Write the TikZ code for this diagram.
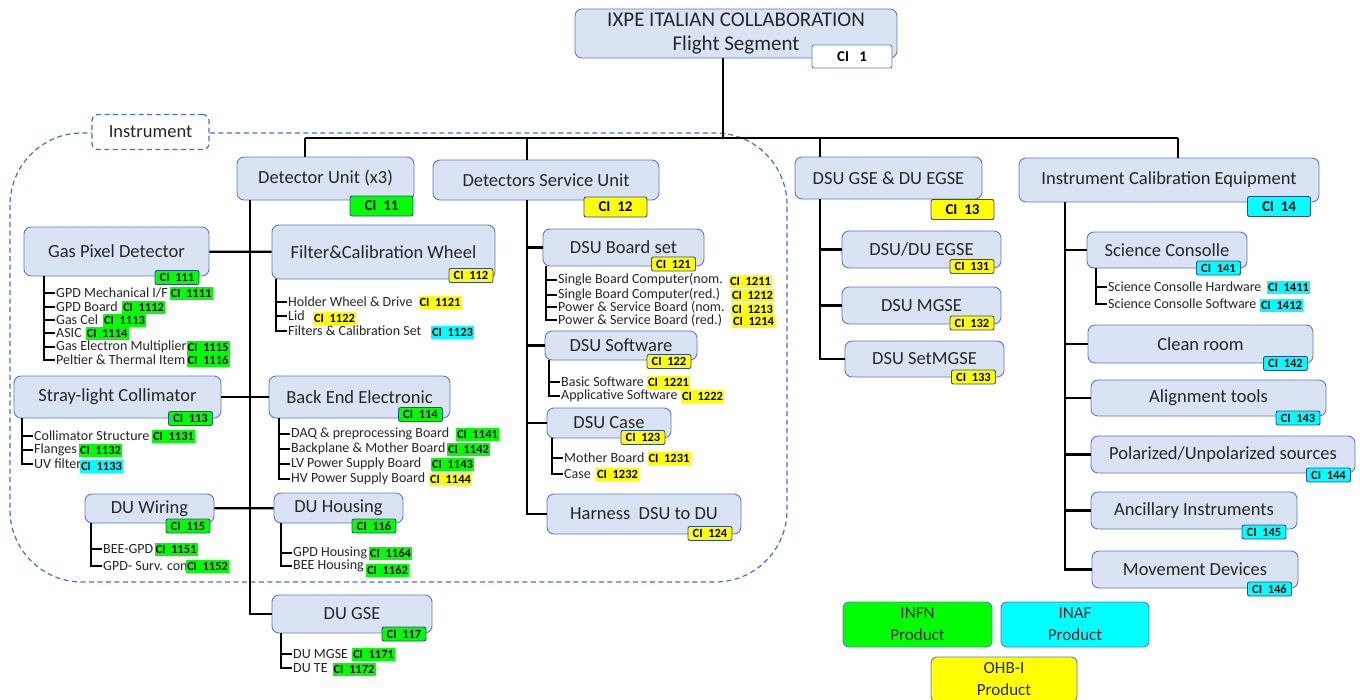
\documentclass[tikz,border=0pt]{standalone}
\usepackage{fontspec}
\setmainfont{Carlito}
\usepackage{xcolor}
\usepackage{tikz}

\definecolor{boxfill}{HTML}{DAE3F3}
\definecolor{boxline}{HTML}{5B7BC0}
\definecolor{tagline}{HTML}{2F4F8F}
\definecolor{dashline}{HTML}{4472C4}
\definecolor{infn}{HTML}{00FF00}
\definecolor{inaf}{HTML}{00FFFF}
\definecolor{ohbi}{HTML}{FFFF00}

\tikzset{box/.style={draw=boxline,fill=boxfill,rounded corners=7pt,line width=0.9pt,text=black!85,inner sep=2pt,font=\fontsize{18.5}{20}\selectfont}}
\tikzset{citag/.style={draw=tagline,rounded corners=2pt,line width=0.9pt,inner sep=0pt,minimum width=44pt,minimum height=14pt,font=\bfseries\fontsize{12.5}{13}\selectfont}}
\tikzset{bigtag/.style={citag,minimum width=63pt,minimum height=20pt,font=\bfseries\fontsize{15}{16}\selectfont}}
\tikzset{itemtag/.style={inner sep=0pt,minimum width=43pt,minimum height=13pt,font=\bfseries\fontsize{12.5}{13}\selectfont}}
\tikzset{itm/.style={anchor=west,inner sep=1pt,text=black!85,font=\fontsize{14}{15}\selectfont}}
\tikzset{wire/.style={line width=2.2pt}}
\tikzset{lst/.style={line width=1.8pt}}
\tikzset{prodbox/.style={draw=boxline,rounded corners=6pt,line width=0.9pt,align=center,minimum height=45pt,text=black!85,font=\fontsize{17}{22}\selectfont}}

\begin{document}
\begin{tikzpicture}[x=1pt,y=-1pt]
    \path[use as bounding box,fill=white] (0,0) rectangle (1360,699);

    % instrument area
    \draw[dashline,line width=1.2pt,dash pattern=on 5pt off 3.5pt,rounded corners=72pt] (10,133) rectangle (787,582);
    \node[draw=dashline,line width=1.2pt,dash pattern=on 5pt off 3.5pt,fill=white,rounded corners=6pt,minimum width=117pt,minimum height=35pt,text=black!85,font=\fontsize{18.5}{20}\selectfont] (inst) at (150.5,132) {Instrument};

    % top
    \node[box,align=center,minimum width=322pt,minimum height=49pt,font=\fontsize{21}{24}\selectfont] (top) at (736,33.5) {IXPE ITALIAN COLLABORATION\\Flight Segment};
    \node[bigtag,fill=white,draw=boxline,minimum width=80pt,minimum height=23pt] (c1) at (852,56.5) {CI\ \ \ 1};

    \node[box,minimum width=177pt,minimum height=43pt] (du) at (325.5,178.5) {Detector Unit (x3)};
    \node[box,minimum width=226pt,minimum height=40pt] (dsu) at (546,180) {Detectors Service Unit};
    \node[box,minimum width=187pt,minimum height=42pt] (dge) at (888.5,178) {DSU GSE \& DU EGSE};
    \node[box,minimum width=300pt,minimum height=44pt] (ice) at (1169,180) {Instrument Calibration Equipment};
    \node[bigtag,fill=infn] (c11) at (381.5,206) {CI\ \ 11};
    \node[bigtag,fill=ohbi] (c12) at (615.5,207) {CI\ \ 12};
    \node[bigtag,fill=ohbi] (c13) at (962.5,209.5) {CI\ \ 13};
    \node[bigtag,fill=inaf] (c14) at (1279,206.5) {CI\ \ 14};

    \coordinate (j0) at (723,138);
    \coordinate (b1) at (305,138);
    \coordinate (b2) at (527,138);
    \coordinate (b3) at (820,138);
    \coordinate (b4) at (1178,138);
    \draw[wire] (j0 |- top.south) -- (j0);
    \draw[wire] (b1) -- (b4);
    \draw[wire] (b1) -- (b1 |- du.north);
    \draw[wire] (b2) -- (b2 |- dsu.north);
    \draw[wire] (b3) -- (b3 |- dge.north);
    \draw[wire] (b4) -- (b4 |- ice.north);

    % detector unit
    \node[box,minimum width=185pt,minimum height=49pt] (gpd) at (116.5,251.5) {Gas Pixel Detector};
    \node[box,minimum width=223pt,minimum height=54pt] (fcw) at (383.5,252) {Filter\&Calibration Wheel};
    \node[box,minimum width=207pt,minimum height=42pt] (slc) at (117.5,397) {Stray-light Collimator};
    \node[box,minimum width=181pt,minimum height=42pt] (bee) at (359.5,397) {Back End Electronic};
    \node[box,minimum width=129pt,minimum height=29pt] (duw) at (149.5,508.5) {DU Wiring};
    \node[box,minimum width=129pt,minimum height=30pt] (duh) at (338.5,508) {DU Housing};
    \node[box,minimum width=160pt,minimum height=38pt] (dugse) at (352,614) {DU GSE};
    \node[citag,fill=infn] (c111) at (177,277.5) {CI\ \ 111};
    \node[citag,fill=ohbi] (c112) at (471,275.5) {CI\ \ 112};
    \node[citag,fill=infn] (c113) at (190.5,418.5) {CI\ \ 113};
    \node[citag,fill=infn] (c114) at (420.5,414.5) {CI\ \ 114};
    \node[citag,fill=infn] (c115) at (188,526) {CI\ \ 115};
    \node[citag,fill=infn] (c116) at (374,526) {CI\ \ 116};
    \node[citag,fill=infn] (c117) at (404,634) {CI\ \ 117};

    \coordinate (t1) at (250,0);
    \draw[wire] (t1 |- du.south) |- (dugse.west);
    \draw[wire] (gpd) -- (fcw);
    \draw[wire] (slc) -- (bee);
    \draw[wire] (duw) -- (duh);

    \node[itm] (gpd1) at (55,293) {GPD Mechanical I/F};
    \node[itm] (gpd2) at (55,307) {GPD Board};
    \node[itm] (gpd3) at (55,320) {Gas Cel};
    \node[itm] (gpd4) at (55,333) {ASIC};
    \node[itm] (gpd5) at (55,347) {Gas Electron Multiplier};
    \node[itm] (gpd6) at (55,360) {Peltier \& Thermal Item};
    \node[itemtag,fill=infn] (c1111) at (191,293) {CI\ \ 1111};
    \node[itemtag,fill=infn] (c1112) at (143.5,307) {CI\ \ 1112};
    \node[itemtag,fill=infn] (c1113) at (124.5,320) {CI\ \ 1113};
    \node[itemtag,fill=infn] (c1114) at (107,333) {CI\ \ 1114};
    \node[itemtag,fill=infn] (c1115) at (208,347) {CI\ \ 1115};
    \node[itemtag,fill=infn] (c1116) at (208,360) {CI\ \ 1116};
    \draw[lst] (gpd.south -| gpd1.west) ++(-11,0) |- (gpd6.west);
    \foreach \n in {gpd1,gpd2,gpd3,gpd4,gpd5} \draw[lst] (\n.west) -- ++(-11,0);

    \node[itm] (fcw1) at (287,302) {Holder Wheel \& Drive};
    \node[itm] (fcw2) at (287,316) {Lid};
    \node[itm] (fcw3) at (287,331) {Filters \& Calibration Set};
    \node[itemtag,fill=ohbi] (c1121) at (440,302) {CI\ \ 1121};
    \node[itemtag,fill=ohbi] (c1122) at (334.5,318) {CI\ \ 1122};
    \node[itemtag,fill=inaf] (c1123) at (452.5,332) {CI\ \ 1123};
    \draw[lst] (fcw.south -| fcw1.west) ++(-11,0) |- (fcw3.west);
    \foreach \n in {fcw1,fcw2} \draw[lst] (\n.west) -- ++(-11,0);

    \node[itm] (slc1) at (33,436) {Collimator Structure};
    \node[itm] (slc2) at (33,450) {Flanges};
    \node[itm] (slc3) at (33,464) {UV filter};
    \node[itemtag,fill=infn] (c1131) at (173.5,436) {CI\ \ 1131};
    \node[itemtag,fill=infn] (c1132) at (100.5,450) {CI\ \ 1132};
    \node[itemtag,fill=inaf] (c1133) at (101.5,466) {CI\ \ 1133};
    \draw[lst] (slc.south -| slc1.west) ++(-11,0) |- (slc3.west);
    \foreach \n in {slc1,slc2} \draw[lst] (\n.west) -- ++(-11,0);

    \node[itm] (bee1) at (290,434) {DAQ \& preprocessing Board};
    \node[itm] (bee2) at (290,449) {Backplane \& Mother Board};
    \node[itm] (bee3) at (290,464) {LV Power Supply Board};
    \node[itm] (bee4) at (290,479) {HV Power Supply Board};
    \node[itemtag,fill=infn] (c1141) at (477.5,434) {CI\ \ 1141};
    \node[itemtag,fill=infn] (c1142) at (468.5,449) {CI\ \ 1142};
    \node[itemtag,fill=infn] (c1143) at (452.5,464) {CI\ \ 1143};
    \node[itemtag,fill=ohbi] (c1144) at (450.5,479) {CI\ \ 1144};
    \draw[lst] (bee.south -| bee1.west) ++(-11,0) |- (bee4.west);
    \foreach \n in {bee1,bee2,bee3} \draw[lst] (\n.west) -- ++(-11,0);

    \node[itm] (duw1) at (102,549) {BEE-GPD};
    \node[itm] (duw2) at (102,566) {GPD- Surv. con};
    \node[itemtag,fill=infn] (c1151) at (176,549) {CI\ \ 1151};
    \node[itemtag,fill=infn] (c1152) at (207.5,566) {CI\ \ 1152};
    \draw[lst] (duw.south -| duw1.west) ++(-11,0) |- (duw2.west);
    \draw[lst] (duw1.west) -- ++(-11,0);

    \node[itm] (duh1) at (292,553) {GPD Housing};
    \node[itm] (duh2) at (292,566) {BEE Housing};
    \node[itemtag,fill=infn] (c1164) at (390.5,553) {CI\ \ 1164};
    \node[itemtag,fill=infn] (c1162) at (387.5,570) {CI\ \ 1162};
    \draw[lst] (duh.south -| duh1.west) ++(-11,0) |- (duh2.west);
    \draw[lst] (duh1.west) -- ++(-11,0);

    \node[itm] (dug1) at (292,654) {DU MGSE};
    \node[itm] (dug2) at (292,668) {DU TE};
    \node[itemtag,fill=infn] (c1171) at (373.5,654) {CI\ \ 1171};
    \node[itemtag,fill=infn] (c1172) at (354,669) {CI\ \ 1172};
    \draw[lst] (dugse.south -| dug1.west) ++(-11,0) |- (dug2.west);
    \draw[lst] (dug1.west) -- ++(-11,0);

    % detectors service unit
    \node[box,minimum width=161pt,minimum height=37pt] (board) at (623.5,247.5) {DSU Board set};
    \node[box,minimum width=152pt,minimum height=29pt] (sw) at (621,345.5) {DSU Software};
    \node[box,minimum width=124pt,minimum height=30pt] (case) at (609,423) {DSU Case};
    \node[box,minimum width=194pt,minimum height=40pt] (harn) at (644,514) {Harness\ \ DSU to DU};
    \node[citag,fill=ohbi] (c121) at (673.5,264) {CI\ \ 121};
    \node[citag,fill=ohbi] (c122) at (669,361.5) {CI\ \ 122};
    \node[citag,fill=ohbi] (c123) at (643,437.5) {CI\ \ 123};
    \node[citag,fill=ohbi] (c124) at (710,533.5) {CI\ \ 124};

    \coordinate (t2) at (527,0);
    \draw[wire] (t2 |- dsu.south) |- (harn.west);
    \draw[wire] (t2 |- board) -- (board.west);
    \draw[wire] (t2 |- sw) -- (sw.west);
    \draw[wire] (t2 |- case) -- (case.west);

    \node[itm] (bs1) at (557,280) {Single Board Computer(nom.};
    \node[itm] (bs2) at (557,295) {Single Board Computer(red.)};
    \node[itm] (bs3) at (557,307) {Power \& Service Board (nom.};
    \node[itm] (bs4) at (557,320) {Power \& Service Board (red.)};
    \node[itemtag,fill=ohbi] (c1211) at (750.5,281) {CI\ \ 1211};
    \node[itemtag,fill=ohbi] (c1212) at (752.5,295) {CI\ \ 1212};
    \node[itemtag,fill=ohbi] (c1213) at (752.5,309) {CI\ \ 1213};
    \node[itemtag,fill=ohbi] (c1214) at (753.5,321) {CI\ \ 1214};
    \draw[lst] (board.south -| bs1.west) ++(-11,0) |- (bs4.west);
    \foreach \n in {bs1,bs2,bs3} \draw[lst] (\n.west) -- ++(-11,0);

    \node[itm] (sw1) at (560,382) {Basic Software};
    \node[itm] (sw2) at (560,396) {Applicative Software};
    \node[itemtag,fill=ohbi] (c1221) at (668.5,382) {CI\ \ 1221};
    \node[itemtag,fill=ohbi] (c1222) at (702.5,396) {CI\ \ 1222};
    \draw[lst] (sw.south -| sw1.west) ++(-11,0) |- (sw2.west);
    \draw[lst] (sw1.west) -- ++(-11,0);

    \node[itm] (cs1) at (563,458) {Mother Board};
    \node[itm] (cs2) at (563,474) {Case};
    \node[itemtag,fill=ohbi] (c1231) at (669,458) {CI\ \ 1231};
    \node[itemtag,fill=ohbi] (c1232) at (617.5,474) {CI\ \ 1232};
    \draw[lst] (case.south -| cs1.west) ++(-11,0) |- (cs2.west);
    \draw[lst] (cs1.west) -- ++(-11,0);

    % dsu gse & du egse
    \node[box,minimum width=159pt,minimum height=37pt] (egse) at (921.5,249.5) {DSU/DU EGSE};
    \node[box,minimum width=159pt,minimum height=37pt] (mgse) at (921.5,305.5) {DSU MGSE};
    \node[box,minimum width=159pt,minimum height=36pt] (smgse) at (924.5,359) {DSU SetMGSE};
    \node[citag,fill=ohbi] (c131) at (972,266.5) {CI\ \ 131};
    \node[citag,fill=ohbi] (c132) at (972,323) {CI\ \ 132};
    \node[citag,fill=ohbi] (c133) at (973.5,377) {CI\ \ 133};

    \coordinate (t3) at (820,0);
    \draw[wire] (t3 |- dge.south) |- (smgse.west);
    \draw[wire] (t3 |- egse) -- (egse.west);
    \draw[wire] (t3 |- mgse) -- (mgse.west);

    % calibration equipment
    \node[box,minimum width=160pt,minimum height=36pt] (scc) at (1167,250) {Science Consolle};
    \node[box,minimum width=225pt,minimum height=38pt] (clean) at (1200.5,344) {Clean room};
    \node[box,minimum width=235pt,minimum height=36pt] (align) at (1208.5,398) {Alignment tools};
    \node[box,minimum width=264pt,minimum height=37pt] (pol) at (1223,454.5) {Polarized/Unpolarized sources};
    \node[box,minimum width=206pt,minimum height=37pt] (anc) at (1194,510.5) {Ancillary Instruments};
    \node[box,minimum width=206pt,minimum height=37pt] (mov) at (1195,569.5) {Movement Devices};
    \node[citag,fill=inaf] (c141) at (1218.5,268) {CI\ \ 141};
    \node[citag,fill=inaf] (c142) at (1285.5,363.5) {CI\ \ 142};
    \node[citag,fill=inaf] (c143) at (1298,418) {CI\ \ 143};
    \node[citag,fill=inaf] (c144) at (1328.5,475) {CI\ \ 144};
    \node[citag,fill=inaf] (c145) at (1264,532) {CI\ \ 145};
    \node[citag,fill=inaf] (c146) at (1269.5,589) {CI\ \ 146};

    \coordinate (t4) at (1065,0);
    \draw[wire] (t4 |- ice.south) |- (mov.west);
    \draw[wire] (t4 |- scc) -- (scc.west);
    \draw[wire] (t4 |- clean) -- (clean.west);
    \draw[wire] (t4 |- align) -- (align.west);
    \draw[wire] (t4 |- pol) -- (pol.west);
    \draw[wire] (t4 |- anc) -- (anc.west);

    \node[itm] (sc1) at (1107,287) {Science Consolle Hardware};
    \node[itm] (sc2) at (1107,304) {Science Consolle Software};
    \node[itemtag,fill=inaf] (c1411) at (1288.5,287) {CI\ \ 1411};
    \node[itemtag,fill=inaf] (c1412) at (1281.5,305) {CI\ \ 1412};
    \draw[lst] (scc.south -| sc1.west) ++(-11,0) |- (sc2.west);
    \draw[lst] (sc1.west) -- ++(-11,0);

    % products
    \node[prodbox,fill=infn,minimum width=149pt] (infnp) at (917.5,624.5) {INFN\\Product};
    \node[prodbox,fill=inaf,minimum width=148pt] (inafp) at (1075,624.5) {INAF\\Product};
    \node[prodbox,fill=ohbi,minimum width=146pt] (ohbip) at (1004,679.5) {OHB-I\\Product};
\end{tikzpicture}
\end{document}
